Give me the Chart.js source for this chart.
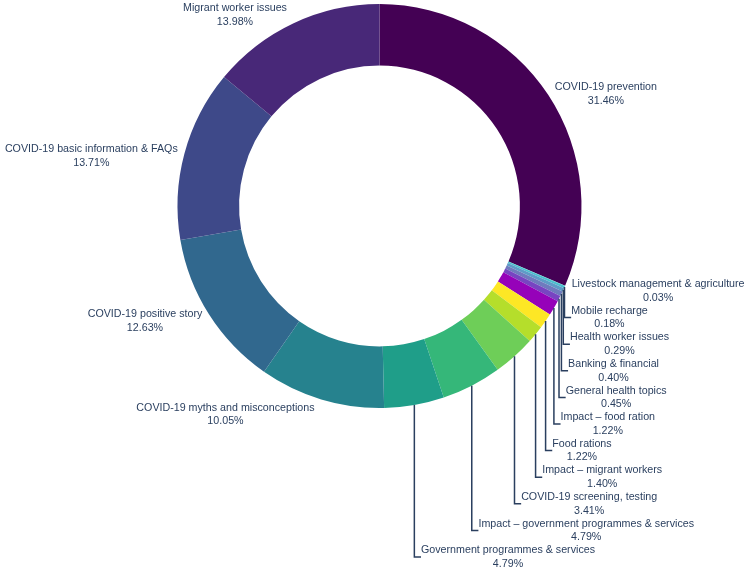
<!DOCTYPE html>
<html>
<head>
<meta charset="utf-8">
<script src="https://cdn.jsdelivr.net/npm/chart.js@4.4.1/dist/chart.umd.min.js"></script>
<style>
  html, body { margin: 0; background: #fff; }
  #wrap { width: 750px; height: 570px; }
</style>
</head>
<body>
<div id="wrap"><canvas id="graficoTemas" width="750" height="570"></canvas></div>
<script>
// order = clockwise from 12 o'clock
let categorias = [
  "COVID-19 prevention",
  "Livestock management & agriculture",
  "Mobile recharge",
  "Health worker issues",
  "Banking & financial",
  "General health topics",
  "Impact – food ration",
  "Food rations",
  "Impact – migrant workers",
  "COVID-19 screening, testing",
  "Impact – government programmes & services",
  "Government programmes & services",
  "COVID-19 myths and misconceptions",
  "COVID-19 positive story",
  "COVID-19 basic information & FAQs",
  "Migrant worker issues"
];
let porcentajes = [31.46, 0.03, 0.18, 0.29, 0.40, 0.45, 1.22, 1.22, 1.40, 3.41, 4.79, 4.79, 10.05, 12.63, 13.71, 13.98];
let colores = [
  "#440154", "#48dbc3", "#4bc0cf", "#5e9cc7", "#6f7bbe", "#7745c1", "#9602b9", "#fde725",
  "#b5de2b", "#6ece58", "#35b779", "#1f9e89", "#26828e", "#31688e", "#3e4989", "#482878"
];

const TAM_FUENTE = 10.7;
const ALTO_ETIQUETA = 26.6;
const COLOR_TEXTO = "#2a3f5f";

// outside labels, plotly style, with leader lines for the pushed ones
const etiquetasFuera = {
  id: "etiquetasFuera",
  afterDatasetsDraw(chart) {
    const ctx = chart.ctx;
    const arcos = chart.getDatasetMeta(0).data;
    ctx.save();
    ctx.font = TAM_FUENTE + 'px "Liberation Sans", Arial, sans-serif';

    let items = arcos.map((arco, i) => {
      const medio = (arco.startAngle + arco.endAngle) / 2;
      const px = arco.outerRadius * Math.cos(medio);
      const py = arco.outerRadius * Math.sin(medio);
      const l1 = categorias[i];
      const l2 = porcentajes[i].toFixed(2) + "%";
      const w = Math.max(ctx.measureText(l1).width, ctx.measureText(l2).width);
      let dx = w / 2, dy = ALTO_ETIQUETA / 2;
      if (px < 0) dx = -dx;
      if (py < 0) dy = -dy;
      const ox = dx + Math.abs(dy) * (dx > 0 ? 1 : -1) / 2;
      const oy = dy / (1 + (px * px) / (py * py));
      const y = arco.y + py + oy + 3;
      return { medio, ax: arco.x + px, ay: arco.y + py, x: arco.x + px + ox, y, y0: y, w, l1, l2, der: px >= 0, abajo: py > 0 };
    });

    // push overlapping labels away from the equator
    const grupos = [
      items.filter(d => d.der && d.abajo).sort((a, b) => a.medio - b.medio),
      items.filter(d => !d.der && d.abajo).sort((a, b) => b.medio - a.medio),
      items.filter(d => d.der && !d.abajo).sort((a, b) => b.medio - a.medio),
      items.filter(d => !d.der && !d.abajo).sort((a, b) => a.medio - b.medio)
    ];
    grupos.forEach((g, k) => {
      for (let j = 1; j < g.length; j++) {
        const prev = g[j - 1], cur = g[j];
        if (k < 2) {
          if (cur.y - ALTO_ETIQUETA / 2 < prev.y + ALTO_ETIQUETA / 2) cur.y = prev.y + ALTO_ETIQUETA;
        } else {
          if (cur.y + ALTO_ETIQUETA / 2 > prev.y - ALTO_ETIQUETA / 2) cur.y = prev.y - ALTO_ETIQUETA;
        }
      }
    });

    ctx.strokeStyle = COLOR_TEXTO;
    ctx.lineWidth = 1.5;
    items.forEach(d => {
      if (Math.abs(d.y - d.y0) > 0.5) {
        const borde = d.der ? d.x - d.w / 2 : d.x + d.w / 2;
        ctx.beginPath();
        ctx.moveTo(d.ax, d.ay);
        ctx.lineTo(d.ax, d.y);
        ctx.lineTo(borde, d.y);
        ctx.stroke();
      }
    });

    ctx.fillStyle = COLOR_TEXTO;
    ctx.textAlign = "center";
    ctx.textBaseline = "middle";
    items.forEach(d => {
      ctx.fillText(d.l1, d.x, d.y - 6.8);
      ctx.fillText(d.l2, d.x, d.y + 6.8);
    });
    ctx.restore();
  }
};

let ctx = document.getElementById("graficoTemas").getContext("2d");

let graficoTemas = new Chart(ctx, {
  type: "doughnut",
  data: {
    labels: categorias,
    datasets: [
      {
        data: porcentajes,
        backgroundColor: colores,
        borderWidth: 0,
      },
    ],
  },
  options: {
    responsive: false,
    animation: false,
    cutout: "69.5%",
    layout: {
      padding: { left: 177.5, right: 168.5, top: 3, bottom: 161 },
    },
    plugins: {
      legend: { display: false },
      tooltip: { enabled: false },
    },
    events: [],
  },
  plugins: [etiquetasFuera],
});
</script>
</body>
</html>
